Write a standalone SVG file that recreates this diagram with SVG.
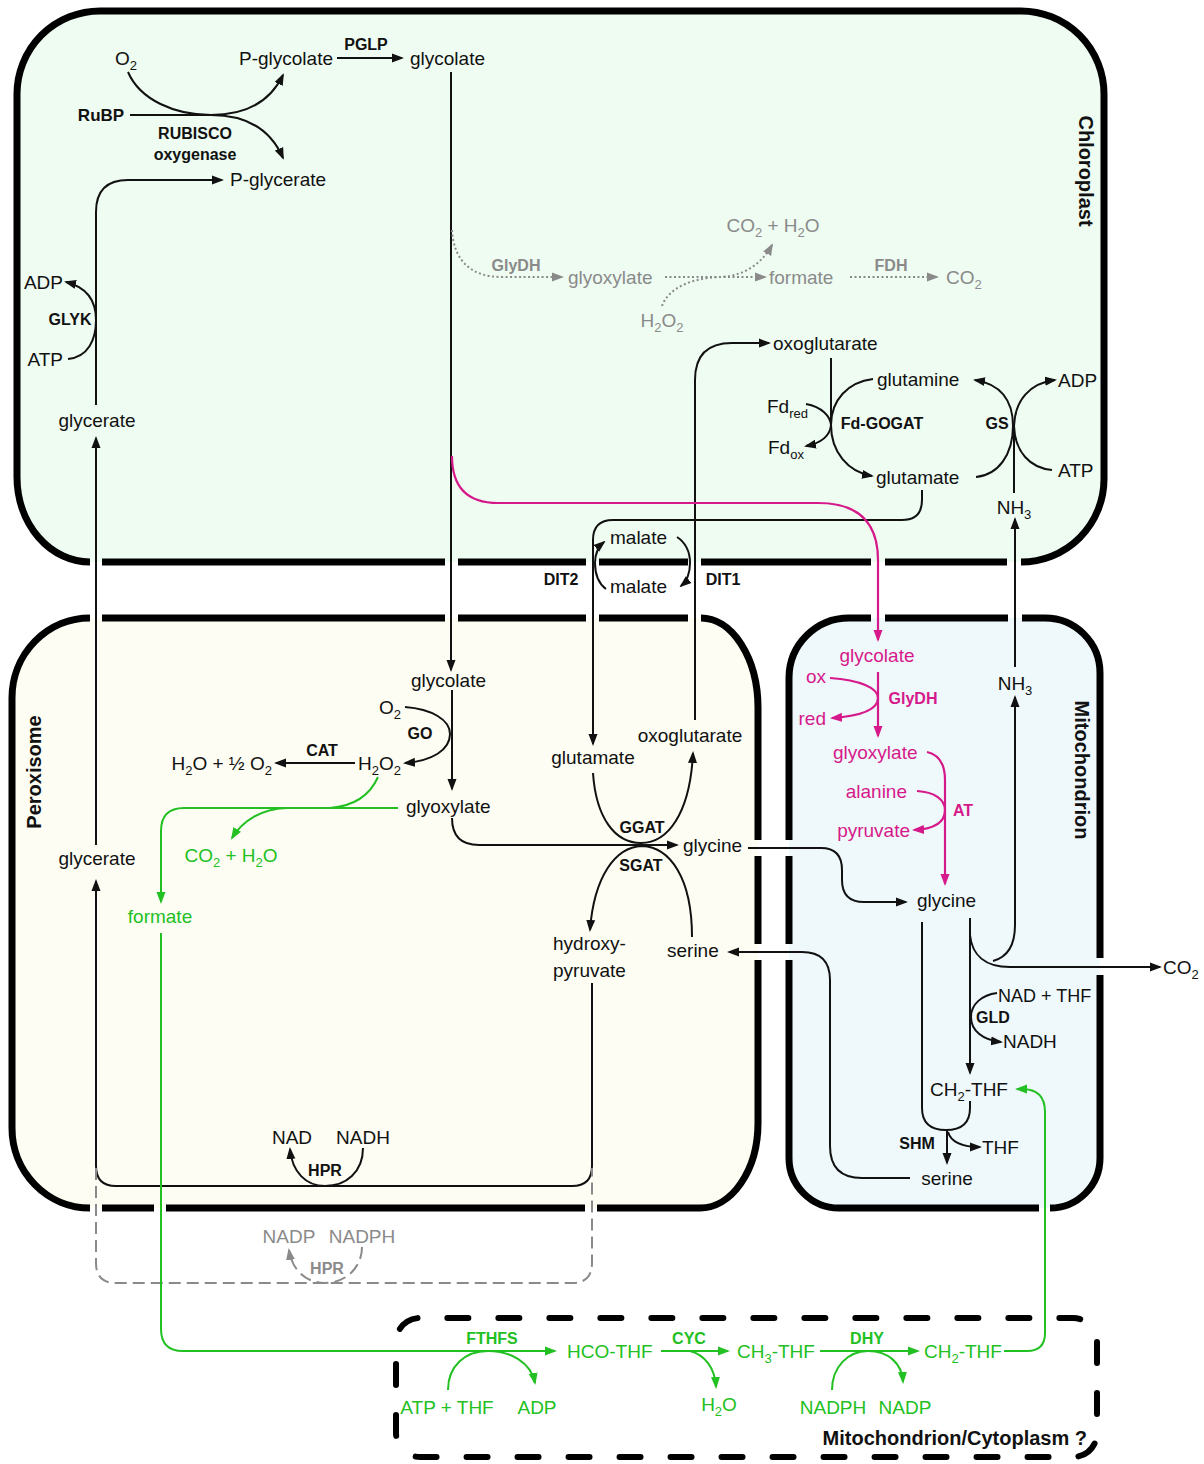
<svg xmlns="http://www.w3.org/2000/svg" width="1204" height="1464" viewBox="0 0 1204 1464">
<style>
text{font-family:"Liberation Sans",Arial,sans-serif}
.t{font-size:19px;fill:#111}
.b{font-size:16px;font-weight:bold;fill:#111}
.s{font-size:13px}
.gy{fill:#8a8a8a}
.mg{fill:#d6198a}
.gr{fill:#22c022}
.lab{font-size:20px;font-weight:bold;fill:#111}
.ln{fill:none;stroke:#111;stroke-width:2}
.lm{fill:none;stroke:#d6198a;stroke-width:2.2}
.lg{fill:none;stroke:#22c022;stroke-width:2}
.ld{fill:none;stroke:#8a8a8a;stroke-width:2;stroke-dasharray:2 2.5}
.lda{fill:none;stroke:#8a8a8a;stroke-width:2;stroke-dasharray:12 6}
.wall{fill:none;stroke:#000;stroke-width:7}
</style>
<defs>
<marker id="a" viewBox="0 0 12 10" refX="10" refY="5" markerWidth="12" markerHeight="10" orient="auto" markerUnits="userSpaceOnUse"><path d="M0,0.5 L12,5 L0,9.5 Z" fill="#111"/></marker>
<marker id="am" viewBox="0 0 12 10" refX="10" refY="5" markerWidth="12" markerHeight="10" orient="auto" markerUnits="userSpaceOnUse"><path d="M0,0.5 L12,5 L0,9.5 Z" fill="#d6198a"/></marker>
<marker id="ag" viewBox="0 0 12 10" refX="10" refY="5" markerWidth="12" markerHeight="10" orient="auto" markerUnits="userSpaceOnUse"><path d="M0,0.5 L12,5 L0,9.5 Z" fill="#22c022"/></marker>
<marker id="ay" viewBox="0 0 12 10" refX="10" refY="5" markerWidth="12" markerHeight="10" orient="auto" markerUnits="userSpaceOnUse"><path d="M0,0.5 L12,5 L0,9.5 Z" fill="#8a8a8a"/></marker>
</defs>
<rect width="1204" height="1464" fill="#fff"/>

<g id="compartments">
<g id="chloroplast">
<path d="M100,11 H1021 A83,83 0 0 1 1104,94 V479 A83,83 0 0 1 1021,562 H90 A73,85 0 0 1 17,477 V94 A83,83 0 0 1 100,11 Z" fill="#effcf2"/>
<path class="wall" d="M1021,562 A83,83 0 0 0 1104,479 V94 A83,83 0 0 0 1021,11 H100 A83,83 0 0 0 17,94 V477 A73,85 0 0 0 90,562"/>
<path class="wall" d="M102,562 H445 M458,562 H586 M599,562 H688 M701,562 H871 M885,562 H1007"/>
<text class="lab" transform="translate(1079,171) rotate(90)" text-anchor="middle">Chloroplast</text>
</g>
<g id="peroxisome">
<path d="M90,618 H700 A57,90 0 0 1 758,708 V1123 A58,85 0 0 1 700,1208 H90 A78,80 0 0 1 12,1128 V698 A78,80 0 0 1 90,618 Z" fill="#fdfdf3"/>
<path class="wall" d="M701,618 A57,90 0 0 1 758,708 V840 M758,856 V944 M758,960 V1123 A58,85 0 0 1 700,1208 H597 M585,1208 H166 M154,1208 H102 M90,1208 A78,80 0 0 1 12,1128 V698 A78,80 0 0 1 90,618 M102,618 H445 M458,618 H586 M599,618 H688"/>
<text class="lab" transform="translate(41,772) rotate(-90)" text-anchor="middle">Peroxisome</text>
</g>
<g id="mitochondrion">
<path d="M849,618 H1045 A55,55 0 0 1 1100,673 V1158 A50,50 0 0 1 1050,1208 H839 A50,50 0 0 1 789,1158 V678 A60,60 0 0 1 849,618 Z" fill="#eff9fc"/>
<path class="wall" d="M1022,618 H1045 A55,55 0 0 1 1100,673 V958 M1100,975 V1158 A50,50 0 0 1 1050,1208 M1039,1208 H839 A50,50 0 0 1 789,1158 V960 M789,944 V856 M789,840 V678 A60,60 0 0 1 849,618 H871 M885,618 H1008"/>
<text class="lab" transform="translate(1075,770) rotate(90)" text-anchor="middle">Mitochondrion</text>
</g>
<g id="cytoplasm">
<path d="M396,1364 V1433 A24,24 0 0 0 420,1457 H1073 A24,24 0 0 0 1097,1433 V1342 A24,24 0 0 0 1073,1318 H420 A24,24 0 0 0 396,1342" fill="none" stroke="#000" stroke-width="6" stroke-linecap="round" stroke-dasharray="21 30"/>
<text class="lab" x="1087" y="1445" text-anchor="end">Mitochondrion/Cytoplasm ?</text>
</g>
</g>

<g id="connectors">
<path class="ln" d="M130,115 H211 C245,115 270,128 283,158" marker-end="url(#a)"/>
<path class="ln" d="M128,72 C140,100 175,115 211,115 C245,115 270,102 283,75" marker-end="url(#a)"/>
<path class="ln" d="M337,58 H402" marker-end="url(#a)"/>
<path class="ln" d="M451,72 V670" marker-end="url(#a)"/>
<path class="ln" d="M96,405 V212 Q96,180 128,180 H222" marker-end="url(#a)"/>
<path class="ln" d="M68,359 C88,357 96,340 96,320 C96,300 86,287 66,282" marker-end="url(#a)"/>
<path class="ln" d="M96,845 V438" marker-end="url(#a)"/>
<path class="ln" d="M592,983 V1166 Q592,1186 572,1186 H116 Q96,1186 96,1166 V881" marker-end="url(#a)"/>
<path class="ln" d="M695,720 V380 Q695,343 732,343 H769" marker-end="url(#a)"/>
<path class="ln" d="M831,358 V425"/>
<path class="ln" d="M873,379 C848,382 831,400 831,425 C831,452 848,472 872,476" marker-end="url(#a)"/>
<path class="ln" d="M806,404 C822,407 830,416 831,425 C830,436 821,443 806,446" marker-end="url(#a)"/>
<path class="ln" d="M976,477 C998,475 1013,455 1013,426 C1013,400 1000,384 975,380" marker-end="url(#a)"/>
<path class="ln" d="M1052,470 C1030,468 1015,452 1014,426 C1015,400 1030,383 1055,380" marker-end="url(#a)"/>
<path class="ln" d="M1014,493 V426"/>
<path class="ln" d="M922,490 V500 Q922,520 902,520 H613 Q593,520 593,540 V744" marker-end="url(#a)"/>
<path class="ln" d="M606,589 C598,583 595,574 595,563 C595,553 598,547 604,542" marker-end="url(#a)"/>
<path class="ln" d="M677,537 C686,543 690,552 690,563 C690,574 687,581 681,586" marker-end="url(#a)"/>
<path class="ln" d="M405,707 C432,709 450,720 450,734 C450,750 432,761 405,763" marker-end="url(#a)"/>
<path class="ln" d="M355,763 H276" marker-end="url(#a)"/>
<path class="ln" d="M452,690 V789" marker-end="url(#a)"/>
<path class="ln" d="M452,818 Q452,845 479,845 H677" marker-end="url(#a)"/>
<path class="ln" d="M593,773 C596,818 615,843 641,843 C667,843 690,815 693,753" marker-end="url(#a)"/>
<path class="ln" d="M692,937 C692,878 670,847 642,846 C615,847 594,877 590,930" marker-end="url(#a)"/>
<path class="ln" d="M748,848 H821 Q842,848 842,870 V880 Q842,902 864,902 H906" marker-end="url(#a)"/>
<path class="ln" d="M910,1178 H862 Q830,1178 830,1146 V980 Q830,952 802,952 H729" marker-end="url(#a)"/>
<path class="ln" d="M363,1148 C363,1172 346,1186 325,1186 C306,1186 292,1172 290,1149" marker-end="url(#a)"/>
<path class="ln" d="M993,961 C1008,957 1015,945 1015,925 V697" marker-end="url(#a)"/>
<path class="ln" d="M1015,667 V519" marker-end="url(#a)"/>
<path class="ln" d="M970,918 V1073" marker-end="url(#a)"/>
<path class="ln" d="M970,935 C972,955 985,967 1010,967 H1160" marker-end="url(#a)"/>
<path class="ln" d="M997,993 C982,995 971,1004 971,1017 C971,1031 983,1040 1001,1042" marker-end="url(#a)"/>
<path class="ln" d="M922,922 V1108 Q922,1130 946,1130 Q970,1130 970,1108 V1101"/>
<path class="ln" d="M947,1130 V1163" marker-end="url(#a)"/>
<path class="ln" d="M948,1132 C951,1142 961,1147 980,1147" marker-end="url(#a)"/>
<path class="ld" d="M452,230 C454,262 472,277 502,277 H562" marker-end="url(#ay)"/>
<path class="ld" d="M665,277 H765" marker-end="url(#ay)"/>
<path class="ld" d="M662,306 C668,289 690,278 720,277 C745,276 762,263 772,245" marker-end="url(#ay)"/>
<path class="ld" d="M850,277 H937" marker-end="url(#ay)"/>
<path class="lda" d="M96,1168 V1263 Q96,1283 116,1283 H572 Q592,1283 592,1263 V1168"/>
<path class="lda" d="M362,1247 C362,1268 345,1283 325,1283 C306,1283 292,1270 289,1250" marker-end="url(#ay)"/>
<path class="lm" d="M452,456 Q452,503 498,503 H818 Q878,503 878,560 V640" marker-end="url(#am)"/>
<path class="lm" d="M878,672 V736" marker-end="url(#am)"/>
<path class="lm" d="M830,678 C860,680 878,688 878,698 C878,710 860,716 832,718" marker-end="url(#am)"/>
<path class="lm" d="M927,752 C940,755 945,765 945,780 V884" marker-end="url(#am)"/>
<path class="lm" d="M917,791 C935,792 945,800 945,810 C945,822 935,829 914,830" marker-end="url(#am)"/>
<path class="lg" d="M398,808 H184 Q161,808 161,831 V902" marker-end="url(#ag)"/>
<path class="lg" d="M378,777 C370,795 355,806 330,808"/>
<path class="lg" d="M286,808 C262,809 243,820 232,838" marker-end="url(#ag)"/>
<path class="lg" d="M161,933 V1329 Q161,1351 183,1351 H555" marker-end="url(#ag)"/>
<path class="lg" d="M448,1390 C448,1366 465,1351 488,1351 C510,1351 531,1362 535,1383" marker-end="url(#ag)"/>
<path class="lg" d="M661,1351 H728" marker-end="url(#ag)"/>
<path class="lg" d="M690,1351 C705,1355 715,1368 716,1387" marker-end="url(#ag)"/>
<path class="lg" d="M820,1351 H918" marker-end="url(#ag)"/>
<path class="lg" d="M832,1390 C832,1367 848,1351 868,1351 C888,1351 902,1363 903,1382" marker-end="url(#ag)"/>
<path class="lg" d="M1004,1351 H1027 Q1045,1351 1045,1333 V1112 Q1045,1089 1022,1089 H1017" marker-end="url(#ag)"/>
</g>

<g id="nodes">
<g id="n-o2-c"><text class="t" x="126" y="65" text-anchor="middle">O<tspan class="s" dy="5">2</tspan></text></g>
<g id="n-pglycolate"><text class="t" x="333" y="65" text-anchor="end">P-glycolate</text></g>
<g id="n-glycolate-c"><text class="t" x="410" y="65">glycolate</text></g>
<g id="e-pglp"><text class="b" x="366" y="50" text-anchor="middle">PGLP</text></g>
<g id="n-rubp"><text class="b" x="101" y="121" text-anchor="middle" style="font-size:17px">RuBP</text></g>
<g id="e-rubisco"><text class="b" x="195" y="139" text-anchor="middle">RUBISCO</text><text class="b" x="195" y="160" text-anchor="middle">oxygenase</text></g>
<g id="n-pglycerate"><text class="t" x="230" y="186">P-glycerate</text></g>
<g id="n-adp-glyk"><text class="t" x="63" y="289" text-anchor="end">ADP</text></g>
<g id="n-atp-glyk"><text class="t" x="63" y="366" text-anchor="end">ATP</text></g>
<g id="e-glyk"><text class="b" x="70" y="325" text-anchor="middle">GLYK</text></g>
<g id="n-glycerate-c"><text class="t" x="97" y="427" text-anchor="middle">glycerate</text></g>
<g id="e-glydh-c"><text class="b gy" x="516" y="271" text-anchor="middle">GlyDH</text></g>
<g id="n-glyoxylate-c"><text class="t gy" x="568" y="284">glyoxylate</text></g>
<g id="n-co2h2o-c"><text class="t gy" x="773" y="232" text-anchor="middle">CO<tspan class="s" dy="5">2</tspan><tspan dy="-5"> + H</tspan><tspan class="s" dy="5">2</tspan><tspan dy="-5">O</tspan></text></g>
<g id="n-h2o2-c"><text class="t gy" x="662" y="327" text-anchor="middle">H<tspan class="s" dy="5">2</tspan><tspan dy="-5">O</tspan><tspan class="s" dy="5">2</tspan></text></g>
<g id="n-formate-c"><text class="t gy" x="769" y="284">formate</text></g>
<g id="e-fdh"><text class="b gy" x="891" y="271" text-anchor="middle">FDH</text></g>
<g id="n-co2-c"><text class="t gy" x="946" y="284">CO<tspan class="s" dy="5">2</tspan></text></g>
<g id="n-oxoglutarate-c"><text class="t" x="773" y="350">oxoglutarate</text></g>
<g id="n-glutamine"><text class="t" x="877" y="386">glutamine</text></g>
<g id="n-fdred"><text class="t" x="767" y="413">Fd<tspan class="s" dy="5">red</tspan></text></g>
<g id="n-fdox"><text class="t" x="768" y="454">Fd<tspan class="s" dy="5">ox</tspan></text></g>
<g id="e-fdgogat"><text class="b" x="882" y="429" text-anchor="middle">Fd-GOGAT</text></g>
<g id="e-gs"><text class="b" x="997" y="429" text-anchor="middle">GS</text></g>
<g id="n-adp-gs"><text class="t" x="1058" y="387">ADP</text></g>
<g id="n-atp-gs"><text class="t" x="1058" y="477">ATP</text></g>
<g id="n-glutamate-c"><text class="t" x="876" y="484">glutamate</text></g>
<g id="n-nh3-c"><text class="t" x="1014" y="514" text-anchor="middle">NH<tspan class="s" dy="5">3</tspan></text></g>
<g id="n-malate-c"><text class="t" x="610" y="544">malate</text></g>
<g id="n-malate-p"><text class="t" x="610" y="593">malate</text></g>
<g id="e-dit2"><text class="b" x="561" y="585" text-anchor="middle">DIT2</text></g>
<g id="e-dit1"><text class="b" x="723" y="585" text-anchor="middle">DIT1</text></g>

<g id="n-glycolate-p"><text class="t" x="411" y="687">glycolate</text></g>
<g id="n-o2-p"><text class="t" x="401" y="714" text-anchor="end">O<tspan class="s" dy="5">2</tspan></text></g>
<g id="e-go"><text class="b" x="420" y="739" text-anchor="middle">GO</text></g>
<g id="n-h2o2-p"><text class="t" x="401" y="770" text-anchor="end">H<tspan class="s" dy="5">2</tspan><tspan dy="-5">O</tspan><tspan class="s" dy="5">2</tspan></text></g>
<g id="e-cat"><text class="b" x="322" y="756" text-anchor="middle">CAT</text></g>
<g id="n-h2o-o2"><text class="t" x="272" y="770" text-anchor="end">H<tspan class="s" dy="5">2</tspan><tspan dy="-5">O + ½ O</tspan><tspan class="s" dy="5">2</tspan></text></g>
<g id="n-glyoxylate-p"><text class="t" x="406" y="813">glyoxylate</text></g>
<g id="n-glutamate-p"><text class="t" x="593" y="764" text-anchor="middle">glutamate</text></g>
<g id="n-oxoglutarate-p"><text class="t" x="690" y="742" text-anchor="middle">oxoglutarate</text></g>
<g id="e-ggat"><text class="b" x="642" y="833" text-anchor="middle">GGAT</text></g>
<g id="e-sgat"><text class="b" x="641" y="871" text-anchor="middle">SGAT</text></g>
<g id="n-glycine-p"><text class="t" x="683" y="852">glycine</text></g>
<g id="n-glycerate-p"><text class="t" x="97" y="865" text-anchor="middle">glycerate</text></g>
<g id="n-co2h2o-p"><text class="t gr" x="231" y="862" text-anchor="middle">CO<tspan class="s" dy="5">2</tspan><tspan dy="-5"> + H</tspan><tspan class="s" dy="5">2</tspan><tspan dy="-5">O</tspan></text></g>
<g id="n-formate-p"><text class="t gr" x="160" y="923" text-anchor="middle">formate</text></g>
<g id="n-hydroxypyruvate"><text class="t" x="553" y="950">hydroxy-</text><text class="t" x="553" y="977">pyruvate</text></g>
<g id="n-serine-p"><text class="t" x="667" y="957">serine</text></g>
<g id="n-nad-p"><text class="t" x="292" y="1144" text-anchor="middle">NAD</text></g>
<g id="n-nadh-p"><text class="t" x="363" y="1144" text-anchor="middle">NADH</text></g>
<g id="e-hpr"><text class="b" x="325" y="1176" text-anchor="middle">HPR</text></g>
<g id="n-nadp-p"><text class="t gy" x="289" y="1243" text-anchor="middle">NADP</text></g>
<g id="n-nadph-p"><text class="t gy" x="362" y="1243" text-anchor="middle">NADPH</text></g>
<g id="e-hpr2"><text class="b gy" x="327" y="1274" text-anchor="middle">HPR</text></g>

<g id="n-glycolate-m"><text class="t mg" x="877" y="662" text-anchor="middle">glycolate</text></g>
<g id="n-ox"><text class="t mg" x="826" y="683" text-anchor="end">ox</text></g>
<g id="e-glydh-m"><text class="b mg" x="913" y="704" text-anchor="middle">GlyDH</text></g>
<g id="n-red"><text class="t mg" x="826" y="725" text-anchor="end">red</text></g>
<g id="n-glyoxylate-m"><text class="t mg" x="833" y="759">glyoxylate</text></g>
<g id="n-alanine"><text class="t mg" x="907" y="798" text-anchor="end">alanine</text></g>
<g id="e-at"><text class="b mg" x="963" y="816" text-anchor="middle">AT</text></g>
<g id="n-pyruvate"><text class="t mg" x="910" y="837" text-anchor="end">pyruvate</text></g>
<g id="n-nh3-m"><text class="t" x="1015" y="690" text-anchor="middle">NH<tspan class="s" dy="5">3</tspan></text></g>
<g id="n-glycine-m"><text class="t" x="917" y="907">glycine</text></g>
<g id="n-co2-out"><text class="t" x="1163" y="974">CO<tspan class="s" dy="5">2</tspan></text></g>
<g id="n-nadthf"><text class="t" x="998" y="1002" style="font-size:18px">NAD + THF</text></g>
<g id="e-gld"><text class="b" x="993" y="1023" text-anchor="middle">GLD</text></g>
<g id="n-nadh-m"><text class="t" x="1003" y="1048">NADH</text></g>
<g id="n-ch2thf-m"><text class="t" x="969" y="1096" text-anchor="middle">CH<tspan class="s" dy="5">2</tspan><tspan dy="-5">-THF</tspan></text></g>
<g id="e-shm"><text class="b" x="917" y="1149" text-anchor="middle">SHM</text></g>
<g id="n-thf-m"><text class="t" x="982" y="1154">THF</text></g>
<g id="n-serine-m"><text class="t" x="947" y="1185" text-anchor="middle">serine</text></g>

<g id="e-fthfs"><text class="b gr" x="492" y="1344" text-anchor="middle">FTHFS</text></g>
<g id="n-hcothf"><text class="t gr" x="567" y="1358">HCO-THF</text></g>
<g id="e-cyc"><text class="b gr" x="689" y="1344" text-anchor="middle">CYC</text></g>
<g id="n-ch3thf"><text class="t gr" x="737" y="1358">CH<tspan class="s" dy="5">3</tspan><tspan dy="-5">-THF</tspan></text></g>
<g id="e-dhy"><text class="b gr" x="867" y="1344" text-anchor="middle">DHY</text></g>
<g id="n-ch2thf-c"><text class="t gr" x="924" y="1358">CH<tspan class="s" dy="5">2</tspan><tspan dy="-5">-THF</tspan></text></g>
<g id="n-atpthf"><text class="t gr" x="447" y="1414" text-anchor="middle">ATP + THF</text></g>
<g id="n-adp-cyt"><text class="t gr" x="537" y="1414" text-anchor="middle">ADP</text></g>
<g id="n-h2o-cyt"><text class="t gr" x="719" y="1411" text-anchor="middle">H<tspan class="s" dy="5">2</tspan><tspan dy="-5">O</tspan></text></g>
<g id="n-nadph-cyt"><text class="t gr" x="833" y="1414" text-anchor="middle">NADPH</text></g>
<g id="n-nadp-cyt"><text class="t gr" x="905" y="1414" text-anchor="middle">NADP</text></g>
</g>
</svg>
